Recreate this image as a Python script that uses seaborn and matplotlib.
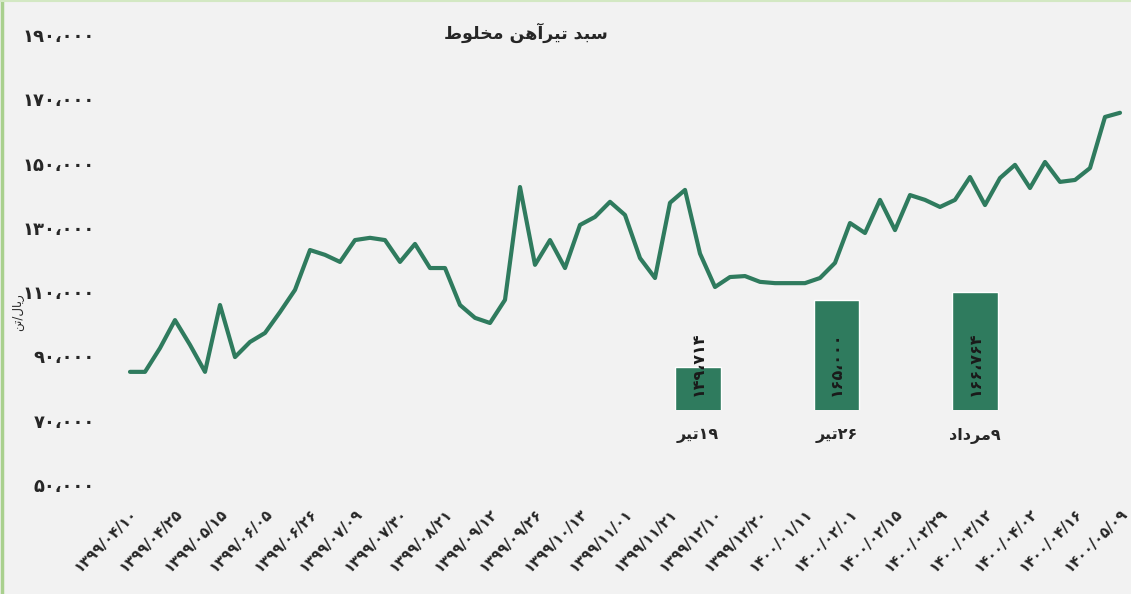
import re
import numpy as np
import matplotlib
matplotlib.use('Agg')
import matplotlib.pyplot as plt
import matplotlib.transforms as mtransforms
from matplotlib.lines import Line2D
import seaborn as sns

# --- data ---------------------------------------------------------------
title = 'سبد تیرآهن مخلوط'
y_unit = 'ریال/تن'

prices = [
    85200, 85200, 92600, 101300, 93600, 85200, 106000, 89800, 94500, 97300,
    103800, 110700, 123100, 121600, 119400, 126200, 126900, 126200, 119400, 125000,
    117500, 117500, 106000, 102000, 100400, 107600, 142700, 118500, 126200, 117500,
    130900, 133400, 138100, 134000, 120600, 114400, 137800, 141800, 122000, 111600,
    114700, 115000, 113200, 112800, 112800, 112800, 114400, 119100, 131500, 128400,
    138700, 129300, 140200, 138700, 136500, 138700, 145800, 137100, 145500, 149600,
    142400, 150500, 144300, 144900, 148600, 164500, 165800,
]

date_labels = [
    '1399/04/10', '1399/04/25', '1399/05/15', '1399/06/05', '1399/06/26',
    '1399/07/09', '1399/07/30', '1399/08/21', '1399/09/12', '1399/09/26',
    '1399/10/13', '1399/11/01', '1399/11/21', '1399/12/10', '1399/12/20',
    '1400/01/11', '1400/02/01', '1400/02/15', '1400/02/29', '1400/03/12',
    '1400/04/02', '1400/04/16', '1400/05/09',
]

y_ticks = [50000, 70000, 90000, 110000, 130000, 150000, 170000, 190000]

bar_days = ['19', '26', '9']
bar_months = ['تیر', 'تیر', 'مرداد']
bar_values = [149714, 165000, 166764]

GREEN = '#2F7B5E'
BG = '#F2F2F2'

# --- persian text helpers (matplotlib has no arabic shaping / bidi) ------
FA_DIGITS = str.maketrans('0123456789,', '۰۱۲۳۴۵۶۷۸۹،')

# isolated, final, initial, medial
FORMS = {
    'ا': ('\uFE8D', '\uFE8E', None, None),
    'آ': ('\uFE81', '\uFE82', None, None),
    'د': ('\uFEA9', '\uFEAA', None, None),
    'ر': ('\uFEAD', '\uFEAE', None, None),
    'و': ('\uFEED', '\uFEEE', None, None),
    'ب': ('\uFE8F', '\uFE90', '\uFE91', '\uFE92'),
    'ت': ('\uFE95', '\uFE96', '\uFE97', '\uFE98'),
    'خ': ('\uFEA5', '\uFEA6', '\uFEA7', '\uFEA8'),
    'س': ('\uFEB1', '\uFEB2', '\uFEB3', '\uFEB4'),
    'ط': ('\uFEC1', '\uFEC2', '\uFEC3', '\uFEC4'),
    'ل': ('\uFEDD', '\uFEDE', '\uFEDF', '\uFEE0'),
    'م': ('\uFEE1', '\uFEE2', '\uFEE3', '\uFEE4'),
    'ن': ('\uFEE5', '\uFEE6', '\uFEE7', '\uFEE8'),
    'ه': ('\uFEE9', '\uFEEA', '\uFEEB', '\uFEEC'),
    'ی': ('\uFEEF', '\uFEF0', '\uFEF3', '\uFEF4'),
}


def fa(s):
    out = []
    for i, ch in enumerate(s):
        if ch not in FORMS:
            out.append(ch)
            continue
        prev = s[i - 1] if i > 0 else ''
        nxt = s[i + 1] if i + 1 < len(s) else ''
        iso, fin, ini, med = FORMS[ch]
        from_prev = prev in FORMS and FORMS[prev][2] is not None
        to_next = nxt in FORMS and ini is not None
        if from_prev and to_next:
            out.append(med)
        elif from_prev:
            out.append(fin)
        elif to_next:
            out.append(ini)
        else:
            out.append(iso)
    shaped = ''.join(out).translate(FA_DIGITS)
    if not any(ch in FORMS for ch in s):
        return shaped  # plain numbers / dates stay left-to-right
    # right-to-left paragraph: reverse token order, digit runs keep their order
    tokens = re.findall(r'[۰-۹،/]+(?=[۰-۹])[۰-۹]*|[۰-۹]+|[^۰-۹]+', shaped)
    return ''.join(t if t[0] in '۰۱۲۳۴۵۶۷۸۹' else t[::-1] for t in reversed(tokens))


# --- figure -------------------------------------------------------------
sns.set_style('white', {'axes.facecolor': BG, 'figure.facecolor': BG})
plt.rcParams['font.family'] = ['DejaVu Sans']

W, H = 1131, 594
fig = plt.figure(figsize=(W / 100, H / 100), dpi=100)
fig.add_artist(Line2D([0.0015, 0.0015], [0, 1], color='#A9D08E', lw=2.5,
                      transform=fig.transFigure))
fig.add_artist(Line2D([0, 1], [0.998, 0.998], color='#D3E8C3', lw=1.5,
                      transform=fig.transFigure))


def px_box(l, t, r, b):
    return [l / W, 1 - b / H, (r - l) / W, (b - t) / H]


ax = fig.add_axes(px_box(121, 35, 1123, 485))
idx = np.arange(len(prices))
sns.lineplot(x=idx, y=prices, color=GREEN, linewidth=3, ax=ax,
             solid_joinstyle='round', solid_capstyle='round')
ax.set_xlim(-0.6, 66.2)
ax.set_ylim(50000, 190000)
ax.set_yticks(y_ticks)
ax.set_yticklabels([fa(f'{v:,}') for v in y_ticks], fontsize=13, fontweight='bold')
ax.set_xticks(idx[::3])
ax.set_xticklabels([fa(d) for d in date_labels], rotation=45, ha='right',
                   rotation_mode='anchor', fontsize=10.5, fontweight='bold')
ax.tick_params(axis='y', length=0, pad=19)
ax.tick_params(axis='x', length=0, pad=15)
ax.set_xlabel('')
ax.set_ylabel('')
sns.despine(ax=ax, left=True, bottom=True)

fig.text(526 / W, 1 - 33 / H, fa(title), ha='center', va='center',
         fontsize=12.5, fontweight='bold')
fig.text(18 / W, 1 - 312 / H, fa(y_unit), ha='center', va='center',
         rotation=90, fontsize=8.5)

# --- inset bars -----------------------------------------------------------
bx = fig.add_axes(px_box(629, 278, 1044, 410))
bx.set_facecolor('none')
bar_names = [fa(d + m) for d, m in zip(bar_days, bar_months)]
sns.barplot(x=bar_names, y=bar_values, color=GREEN, width=0.33,
            saturation=1, ax=bx)
bx.set_ylim(140000, 170000)
bx.set_xlim(-0.5, 2.5)
bx.set_yticks([])
bx.set_ylabel('')
bx.tick_params(axis='x', length=0, pad=13, labelsize=11.5)
for lbl in bx.get_xticklabels():
    lbl.set_fontweight('bold')
sns.despine(ax=bx, left=True, bottom=True)
trans = mtransforms.blended_transform_factory(bx.transData, bx.transAxes)
for i, v in enumerate(bar_values):
    bx.text(i, 0.35, fa(f'{v:,}'), transform=trans, rotation=90,
            ha='center', va='center', fontsize=11.5, fontweight='bold',
            color='#1A1A1A')

fig.savefig('out.png', dpi=100, facecolor=fig.get_facecolor())
